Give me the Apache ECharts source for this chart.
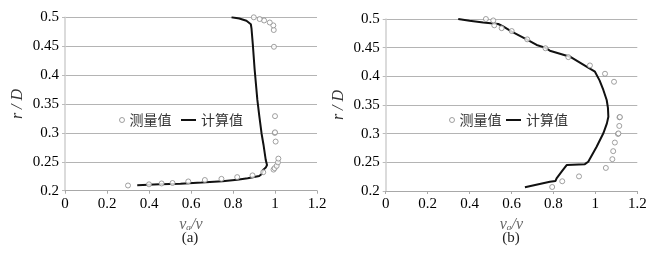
<!DOCTYPE html>
<html><head><meta charset="utf-8">
<script src="https://cdn.jsdelivr.net/npm/echarts@6/dist/echarts.min.js"></script>
<style>html,body{margin:0;padding:0;background:#fff}#c{width:668px;height:258px}</style>
</head><body><div id="c"></div>
<script>
// Panel (a)
const leftMeasured = [[0.30,0.209],[0.40,0.211],[0.46,0.2125],[0.512,0.2133],[0.587,0.216],[0.666,0.2185],[0.745,0.2205],[0.82,0.2235],[0.893,0.2265],[0.944,0.232],[0.993,0.2365],[0.998,0.239],[1.008,0.243],[1.014,0.249],[1.016,0.2555],[1.003,0.285],[0.999,0.300],[1.0,0.301],[1.0,0.329],[0.995,0.449],[0.994,0.478],[0.992,0.486],[0.975,0.491],[0.948,0.4945],[0.927,0.497],[0.899,0.5]];
const leftCalc = [[0.344,0.2095],[0.45,0.211],[0.55,0.2122],[0.65,0.214],[0.75,0.2165],[0.82,0.219],[0.87,0.2215],[0.925,0.2255],[0.937,0.229],[0.943,0.236],[0.956,0.24],[0.962,0.2445],[0.956,0.253],[0.945,0.28],[0.936,0.299],[0.925,0.33],[0.916,0.357],[0.903,0.41],[0.895,0.45],[0.888,0.481],[0.885,0.488],[0.864,0.494],[0.83,0.498],[0.793,0.5]];
// Panel (b)
const rightMeasured = [[0.794,0.207],[0.842,0.217],[0.922,0.2255],[1.05,0.2402],[1.081,0.2555],[1.085,0.2695],[1.093,0.2845],[1.108,0.2995],[1.11,0.3005],[1.114,0.3135],[1.115,0.3285],[1.117,0.329],[1.089,0.3905],[1.046,0.4045],[0.974,0.419],[0.871,0.4335],[0.762,0.449],[0.675,0.4645],[0.601,0.479],[0.553,0.484],[0.518,0.489],[0.513,0.4975],[0.478,0.5]];
const rightCalc = [[0.664,0.2065],[0.783,0.2163],[0.81,0.2175],[0.815,0.2221],[0.839,0.2337],[0.863,0.2453],[0.95,0.2468],[0.966,0.2511],[1.006,0.2773],[1.038,0.3006],[1.055,0.318],[1.062,0.3296],[1.06,0.345],[1.054,0.3587],[1.038,0.3762],[1.02,0.393],[0.998,0.4081],[0.958,0.4168],[0.879,0.4343],[0.783,0.4447],[0.76,0.45],[0.72,0.4547],[0.672,0.4646],[0.601,0.478],[0.56,0.487],[0.537,0.4913],[0.465,0.4937],[0.40,0.497],[0.346,0.5]];
const xTicks = {min:0, max:1.2, interval:0.2};
const yTicks = {min:0.2, max:0.5, interval:0.05};
const measuredName = '测量值';
const calcName = '计算值';
const panelLabels = ['(a)','(b)'];
const xName = 'vₐ/v';
const yName = 'r / D';

const serif = 'Liberation Serif';
function xAxis(idx){
  return {type:'value', gridIndex:idx, min:xTicks.min, max:xTicks.max, interval:xTicks.interval,
    axisLine:{show:true, lineStyle:{color:'#a8a8a8', width:1}},
    axisTick:{show:true, length:3, lineStyle:{color:'#a8a8a8'}},
    axisLabel:{color:'#000', fontFamily:serif, fontSize:15, margin:6},
    splitLine:{show:false},
    name:xName, nameLocation:'middle', nameGap:20,
    nameTextStyle:{fontFamily:serif, fontStyle:'italic', fontSize:16, color:'#666'}
  };
}
function yAxis(idx){
  return {type:'value', gridIndex:idx, min:yTicks.min, max:yTicks.max, interval:yTicks.interval,
    axisLine:{show:true, lineStyle:{color:'#cfcfcf', width:1.5}},
    axisTick:{show:true, length:3, lineStyle:{color:'#bbb'}},
    axisLabel:{color:'#000', fontFamily:serif, fontSize:15, margin:6},
    splitLine:{show:true, lineStyle:{color:'#b4b4b4', width:1}},
    name:yName, nameLocation:'middle', nameRotate:90, nameGap:39,
    nameTextStyle:{fontFamily:serif, fontStyle:'italic', fontSize:16, color:'#333'}
  };
}
const scatterStyle = {color:'#fff', borderColor:'#8a8a8a', borderWidth:1};
const legendText = {fontFamily:'Noto Sans CJK SC', fontSize:14, color:'#333', lineHeight:14};
function legends(cx, lx){
  return [
    {left:cx, top:113, padding:0, itemWidth:5, itemHeight:5, itemGap:0, textStyle:legendText,
     data:[{name:measuredName, icon:'circle', itemStyle:scatterStyle}]},
    {left:lx, top:113, padding:0, itemWidth:15, itemHeight:2, itemGap:0, textStyle:legendText,
     data:[{name:calcName, icon:'rect', itemStyle:{color:'#111'}}]}
  ];
}
const chart = echarts.init(document.getElementById('c'), null, {renderer:'canvas'});
chart.setOption({
  animation:false,
  backgroundColor:'#fff',
  grid:[{left:65, top:17.3, width:252, height:173.4},{left:385.7, top:19, width:251.6, height:172}],
  xAxis:[xAxis(0), xAxis(1)],
  yAxis:[yAxis(0), yAxis(1)],
  legend:[...legends(119, 181), ...legends(449, 506)],
  graphic:[
    {type:'text', x:190, y:238, style:{text:panelLabels[0], fontFamily:serif, fontSize:15, fill:'#222', textAlign:'center', textVerticalAlign:'middle'}},
    {type:'text', x:511, y:238, style:{text:panelLabels[1], fontFamily:serif, fontSize:15, fill:'#222', textAlign:'center', textVerticalAlign:'middle'}}
  ],
  series:[
    {name:measuredName, type:'scatter', xAxisIndex:0, yAxisIndex:0, data:leftMeasured, symbol:'circle', symbolSize:5, itemStyle:scatterStyle, z:3},
    {name:calcName, type:'line', xAxisIndex:0, yAxisIndex:0, data:leftCalc, symbol:'none', lineStyle:{color:'#111', width:2}, itemStyle:{color:'#111'}, z:2},
    {name:measuredName, type:'scatter', xAxisIndex:1, yAxisIndex:1, data:rightMeasured, symbol:'circle', symbolSize:5, itemStyle:scatterStyle, z:3},
    {name:calcName, type:'line', xAxisIndex:1, yAxisIndex:1, data:rightCalc, symbol:'none', lineStyle:{color:'#111', width:2}, itemStyle:{color:'#111'}, z:2}
  ]
});
</script></body></html>
